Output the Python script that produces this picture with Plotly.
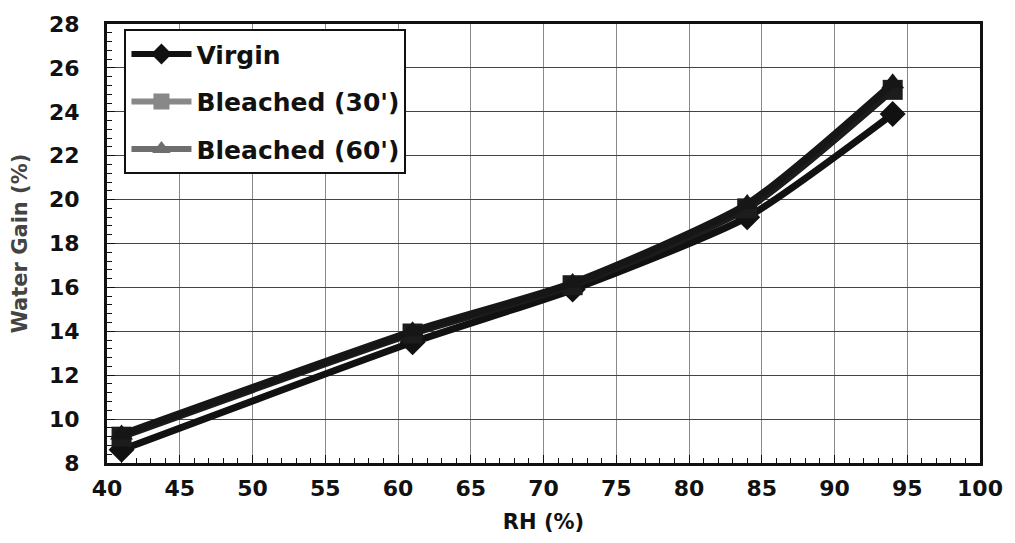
import plotly.graph_objects as go

rh = [41, 61, 72, 84, 94]
virgin = [8.6, 13.5, 15.9, 19.2, 23.9]
bleached30 = [9.2, 13.9, 16.1, 19.6, 25.0]
bleached60 = [9.3, 14.0, 16.2, 19.8, 25.3]

names = ["Virgin", "Bleached (30')", "Bleached (60')"]
series = [virgin, bleached30, bleached60]
symbols = ["diamond", "square", "triangle-up"]
plot_colors = ["#111111", "#1c1c1c", "#161616"]
legend_colors = ["#111111", "#888888", "#6e6e6e"]

FONT = "DejaVu Sans"

fig = go.Figure()
for name, ys, sym, col in zip(names, series, symbols, plot_colors):
    fig.add_trace(go.Scatter(
        x=rh, y=ys, mode="lines+markers", name=name, showlegend=False,
        line=dict(color=col, width=7, shape="spline", smoothing=0.6),
        marker=dict(symbol=sym, size=20, color=col),
    ))
for i, (name, sym, col) in enumerate(zip(names, symbols, legend_colors)):
    fig.add_trace(go.Scatter(
        x=[None], y=[None], mode="lines+markers", name=name,
        legendgroup=f"g{i}",
        line=dict(color=col, width=6), marker=dict(symbol=sym, size=17, color=col),
    ))

fig.update_layout(
    width=1015, height=543,
    margin=dict(l=107, r=32, t=24, b=80),
    paper_bgcolor="white", plot_bgcolor="white",
    font=dict(family=FONT, color="#111111"),
    legend=dict(
        x=0.02, y=0.988, xanchor="left", yanchor="top",
        bgcolor="white", bordercolor="#111111", borderwidth=2,
        font=dict(family=FONT, size=25, color="#111111", weight="bold"),
        tracegroupgap=12, traceorder="grouped", itemwidth=60,
    ),
    xaxis=dict(
        range=[40, 100], dtick=5, tick0=40,
        showgrid=True, gridcolor="#8a8a8a", gridwidth=1,
        showline=True, linecolor="#111111", linewidth=3, mirror=True,
        ticks="inside", ticklen=8, tickcolor="#111111",
        minor=dict(ticks="inside", dtick=1, ticklen=5, tickcolor="#111111", showgrid=False),
        tickfont=dict(family=FONT, size=22, color="#111111", weight="bold"),
        ticklabelstandoff=4,
        title=dict(text="RH (%)", font=dict(family=FONT, size=21, color="#111111", weight="bold"), standoff=14),
        zeroline=False,
    ),
    yaxis=dict(
        range=[8, 28], dtick=2, tick0=8,
        showgrid=True, gridcolor="#444444", gridwidth=1,
        showline=True, linecolor="#111111", linewidth=3, mirror=True,
        ticks="inside", ticklen=8, tickcolor="#111111",
        minor=dict(ticks="inside", dtick=0.4, ticklen=5, tickcolor="#111111", showgrid=False),
        tickfont=dict(family=FONT, size=22, color="#111111", weight="bold"),
        ticklabelstandoff=20,
        title=dict(text="Water Gain (%)", font=dict(family=FONT, size=21, color="#444444", weight="bold"), standoff=16),
        zeroline=False,
    ),
)

fig.write_html("out.html")
